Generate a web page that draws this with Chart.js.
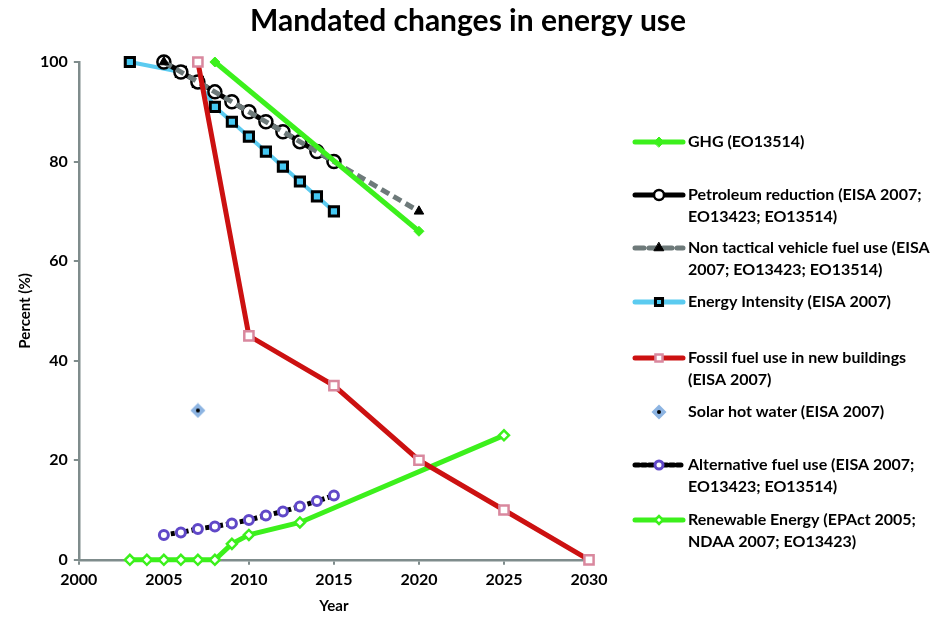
<!DOCTYPE html>
<html>
<head>
<meta charset="utf-8">
<script src="https://cdn.jsdelivr.net/npm/chart.js@4/dist/chart.umd.min.js"></script>
<style>
  html, body { margin: 0; padding: 0; background: #fff; }
  #wrap { width: 932px; height: 619px; }
</style>
</head>
<body>
<div id="wrap"><canvas id="energy"></canvas></div>
<script>
// --- data ---
const xTicks = [2000, 2005, 2010, 2015, 2020, 2025, 2030];
const yTicks = [0, 20, 40, 60, 80, 100];

const ghgYears = [2008, 2020];
const ghgValues = [100, 66];

const petroYears = [2005, 2006, 2007, 2008, 2009, 2010, 2011, 2012, 2013, 2014, 2015];
const petroValues = [100, 98, 96, 94, 92, 90, 88, 86, 84, 82, 80];

const vehicleYears = [2005, 2020];
const vehicleValues = [100, 70];

const intensityYears = [2003, 2006, 2007, 2008, 2009, 2010, 2011, 2012, 2013, 2014, 2015];
const intensityValues = [100, 98, 96, 91, 88, 85, 82, 79, 76, 73, 70];

const fossilYears = [2007, 2010, 2015, 2020, 2025, 2030];
const fossilValues = [100, 45, 35, 20, 10, 0];

const solarYears = [2007];
const solarValues = [30];

const altYears = [2005, 2006, 2007, 2008, 2009, 2010, 2011, 2012, 2013, 2014, 2015];
const altValues = [5, 5.5, 6.2, 6.7, 7.3, 8, 8.9, 9.7, 10.7, 11.8, 12.9];

const renewYears = [2003, 2004, 2005, 2006, 2007, 2008, 2009, 2010, 2013, 2025];
const renewValues = [0, 0, 0, 0, 0, 0, 3.2, 5, 7.5, 25];

const chartTitle = 'Mandated changes in energy use';

const seriesNames = [
  ['GHG (EO13514)'],
  ['Petroleum reduction (EISA 2007;', 'EO13423; EO13514)'],
  ['Non tactical vehicle fuel use (EISA', '2007; EO13423; EO13514)'],
  ['Energy Intensity (EISA 2007)'],
  ['Fossil fuel use in new buildings', '(EISA 2007)'],
  ['Solar hot water (EISA 2007)'],
  ['Alternative fuel use (EISA 2007;', 'EO13423; EO13514)'],
  ['Renewable Energy (EPAct 2005;', 'NDAA 2007; EO13423)']
];

const pts = (xs, ys) => xs.map((x, i) => ({ x: x, y: ys[i] }));

// solar marker: light blue diamond with a black centre dot
const solarMark = document.createElement('canvas');
solarMark.width = 16; solarMark.height = 16;
(function () {
  const c = solarMark.getContext('2d');
  c.fillStyle = '#8db4e2';
  c.beginPath();
  c.moveTo(8, 0.5); c.lineTo(15.5, 8); c.lineTo(8, 15.5); c.lineTo(0.5, 8);
  c.closePath(); c.fill();
  c.fillStyle = '#000';
  c.beginPath(); c.arc(8, 8, 2, 0, Math.PI * 2); c.fill();
})();

const GREEN = '#3cf01c';
const AXIS = '#7f8c8c';
const FONT = 'Lato, "Open Sans", sans-serif';

// legend rows: y of first text line
const legendRows = [142, 195, 248, 302, 358, 412, 465, 520];

const legendPlugin = {
  id: 'sideLegend',
  afterDraw(chart) {
    const ctx = chart.ctx;
    // title, centred on the page like the original
    ctx.save();
    ctx.fillStyle = '#000';
    ctx.font = 'bold 30px ' + FONT;
    ctx.textAlign = 'center';
    ctx.textBaseline = 'middle';
    ctx.fillText(chartTitle, 468, 21);
    ctx.restore();

    chart.data.datasets.forEach((ds, i) => {
      const y = legendRows[i];
      ctx.save();
      if (ds.showLine !== false) {
        ctx.strokeStyle = ds.borderColor;
        ctx.lineWidth = 5;
        ctx.lineCap = 'round';
        ctx.setLineDash(ds.borderDash || []);
        ctx.beginPath();
        ctx.moveTo(635, y); ctx.lineTo(683, y);
        ctx.stroke();
      }
      ctx.setLineDash([]);
      if (ds.pointStyle instanceof HTMLCanvasElement) {
        ctx.drawImage(ds.pointStyle, 659 - 8, y - 8);
      } else {
        ctx.fillStyle = ds.pointBackgroundColor;
        ctx.strokeStyle = ds.pointBorderColor;
        ctx.lineWidth = ds.pointBorderWidth;
        Chart.helpers.drawPoint(ctx, {
          pointStyle: ds.pointStyle, radius: ds.legendRadius || ds.pointRadius,
          rotation: 0, borderWidth: ds.pointBorderWidth
        }, 659, y);
      }
      ctx.fillStyle = '#000';
      ctx.font = 'bold 16px ' + FONT;
      ctx.textBaseline = 'middle';
      seriesNames[i].forEach((line, k) => ctx.fillText(line, 688, y + k * 22));
      ctx.restore();
    });
  }
};

new Chart(document.getElementById('energy'), {
  type: 'line',
  data: {
    datasets: [
      { label: seriesNames[0].join(' '), data: pts(ghgYears, ghgValues),
        borderColor: GREEN, borderWidth: 5, pointStyle: 'rectRot', pointRadius: 5,
        pointBackgroundColor: GREEN, pointBorderColor: GREEN, pointBorderWidth: 1, order: 3 },
      { label: seriesNames[1].join(' '), data: pts(petroYears, petroValues),
        borderColor: '#000', borderWidth: 5, pointStyle: 'circle', pointRadius: 6.5, legendRadius: 5,
        pointBackgroundColor: '#fff', pointBorderColor: '#000', pointBorderWidth: 2.5, order: 5 },
      { label: seriesNames[2].join(' '), data: pts(vehicleYears, vehicleValues),
        borderColor: '#6e7a7a', borderWidth: 5, borderDash: [9, 5], pointStyle: 'triangle', pointRadius: 5.5,
        pointBackgroundColor: '#000', pointBorderColor: '#000', pointBorderWidth: 1, order: 4 },
      { label: seriesNames[3].join(' '), data: pts(intensityYears, intensityValues),
        borderColor: '#5bcbf0', borderWidth: 4, pointStyle: 'rect', pointRadius: 6.5, legendRadius: 5,
        pointBackgroundColor: '#45c8f2', pointBorderColor: '#000', pointBorderWidth: 3, order: 6 },
      { label: seriesNames[4].join(' '), data: pts(fossilYears, fossilValues),
        borderColor: '#cc1111', borderWidth: 5, pointStyle: 'rect', pointRadius: 6.5, legendRadius: 5,
        pointBackgroundColor: '#fff', pointBorderColor: '#d9889e', pointBorderWidth: 2.5, order: 2 },
      { label: seriesNames[5].join(' '), data: pts(solarYears, solarValues),
        showLine: false, pointStyle: solarMark, pointRadius: 8,
        pointBackgroundColor: '#8db4e2', pointBorderColor: '#8db4e2', pointBorderWidth: 0, order: 1 },
      { label: seriesNames[6].join(' '), data: pts(altYears, altValues),
        borderColor: '#000', borderWidth: 5, borderDash: [4, 3], pointStyle: 'circle', pointRadius: 4.5, legendRadius: 4,
        pointBackgroundColor: '#fff', pointBorderColor: '#6048c8', pointBorderWidth: 3, order: 1 },
      { label: seriesNames[7].join(' '), data: pts(renewYears, renewValues),
        borderColor: GREEN, borderWidth: 5, pointStyle: 'rectRot', pointRadius: 5, legendRadius: 4,
        pointBackgroundColor: '#fff', pointBorderColor: GREEN, pointBorderWidth: 2.5, order: 2 }
    ]
  },
  options: {
    responsive: true,
    maintainAspectRatio: false,
    animation: false,
    clip: false,
    layout: { padding: { left: 12, right: 343, top: 62, bottom: 4 } },
    plugins: {
      legend: { display: false },
      tooltip: { enabled: false },
      title: { display: false }
    },
    scales: {
      x: {
        type: 'linear', min: 2000, max: 2030,
        afterBuildTicks: s => { s.ticks = xTicks.map(v => ({ value: v })); },
        ticks: { color: '#000', font: { family: FONT, size: 16, weight: 'bold' }, padding: 5,
                 maxRotation: 0, callback: v => String(v) },
        grid: { drawOnChartArea: false, drawTicks: true, tickLength: 5, color: AXIS, lineWidth: 2 },
        border: { color: AXIS, width: 2.5 },
        title: { display: true, text: 'Year', color: '#000',
                 font: { family: FONT, size: 15, weight: 'bold' }, padding: { top: 3, bottom: 0 } }
      },
      y: {
        min: 0, max: 100,
        afterBuildTicks: s => { s.ticks = yTicks.map(v => ({ value: v })); },
        ticks: { color: '#000', font: { family: FONT, size: 16, weight: 'bold' }, padding: 6 },
        grid: { drawOnChartArea: false, drawTicks: true, tickLength: 5, color: AXIS, lineWidth: 2 },
        border: { color: AXIS, width: 2.5 },
        title: { display: true, text: 'Percent (%)', color: '#000',
                 font: { family: FONT, size: 15, weight: 'bold' }, padding: { top: 4, bottom: 0 } }
      }
    }
  },
  plugins: [legendPlugin]
});
</script>
</body>
</html>
